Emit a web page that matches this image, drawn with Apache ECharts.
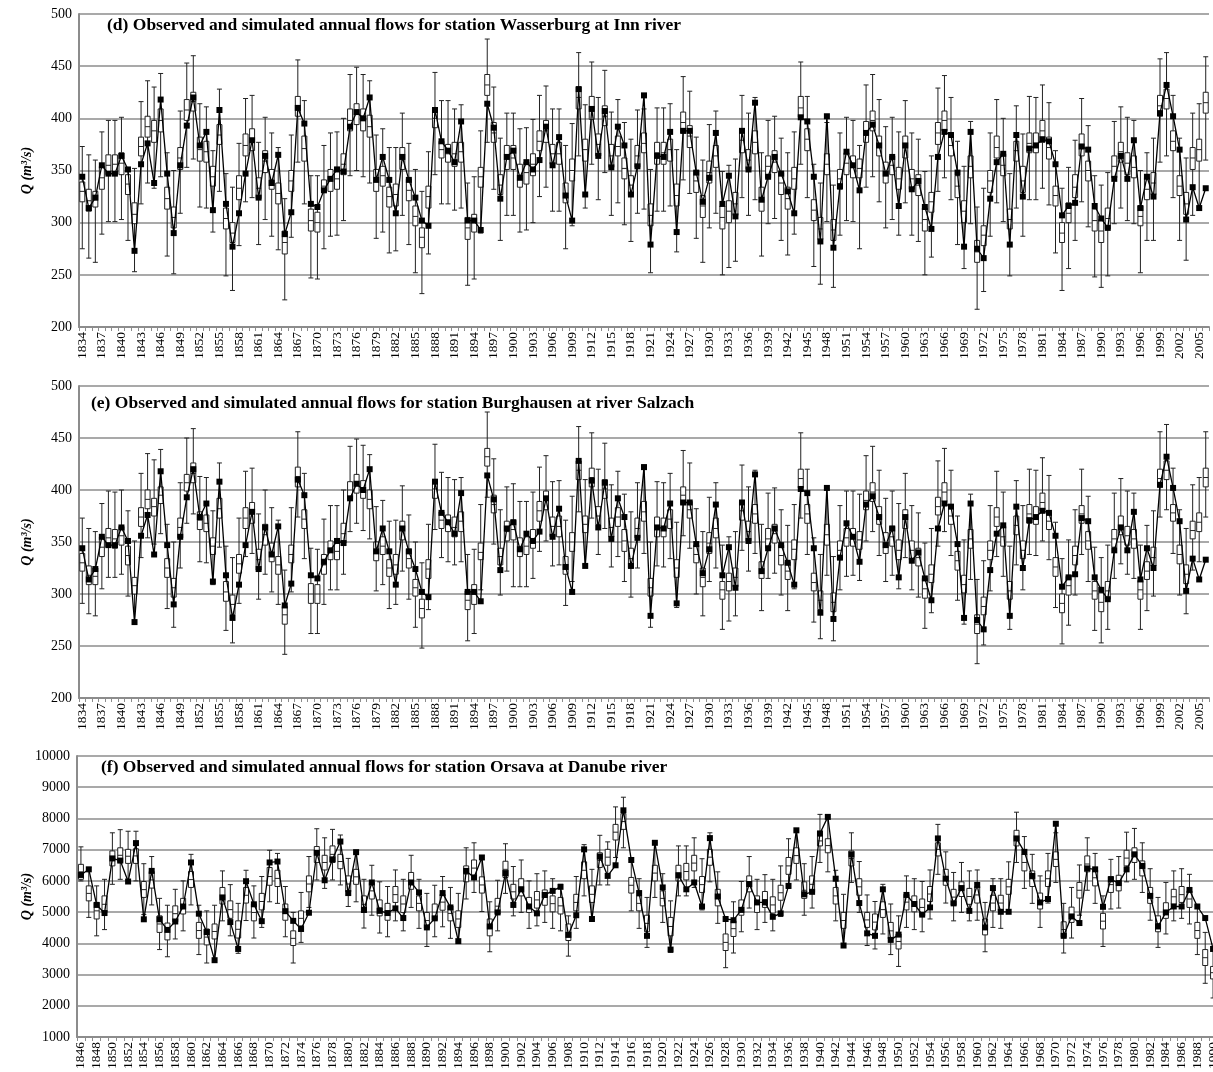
<!DOCTYPE html>
<html><head><meta charset="utf-8">
<script src="https://cdn.jsdelivr.net/npm/echarts@6/dist/echarts.min.js"></script>
<style>html,body{margin:0;padding:0;overflow:hidden;background:#fff}#c{width:1240px;height:1072px}</style>
</head><body><div id="c"></div>
<script>
// ---------- Panel (d) / (e): years 1834-2006 ----------
const yearsDE = [];
for (let y = 1834; y <= 2006; y++) yearsDE.push(String(y));
// Observed annual flows (identical series shown in panels d and e)
const obsDE = [344,314,324,355,347,347,364,351,273,356, 376,338,418,347,290,355,393,420,374,387, 312,408,318,277,309,347,379,324,364,338, 365,289,310,410,395,318,315,331,342,351, 349,392,406,400,
420,341,363,341,309,363,341,324,302,297, 408,378,369,358,397,302,302,293,414,391, 323,363,369,343,358,351,360,392,355,382, 326,302,428,327,409,364,407,353,392,374, 327,354,422,
279,364,363,387,291,388,388,348,320,343, 386,318,345,306,388,351,415,322,344,363, 347,330,309,401,397,344,282,402,276,335, 368,355,331,386,394,374,347,363,316,374, 332,340,
315,294,363,387,384,348,277,387,275,266, 323,358,366,279,384,325,371,374,380,378, 356,307,316,319,373,370,316,304,295,342, 364,342,379,314,344,325,405,432,402,370, 303,334,314,333];
// Simulated (d) Wasserburg: whisker max, Q3, median, Q1, whisker min
const dHi = [373,365,360,387,398,398,401,352,352,416, 436,430,443,367,350,407,453,460,414,411, 369,428,347,334,376,419,422,377,401,386, 372,323,384,456,417,345,345,374,386,387, 400,442,449,442,
436,384,390,372,372,405,376,351,330,368, 444,417,417,409,413,338,344,388,476,430, 381,405,405,390,391,399,422,431,409,409, 374,395,463,413,454,420,446,406,418,396, 380,408,409,
351,410,410,414,370,440,426,382,360,394, 407,349,355,361,422,405,420,367,398,402, 381,367,387,454,421,356,338,396,336,386, 401,398,374,432,442,418,392,401,387,417, 386,380,
349,364,429,441,420,378,354,397,315,333, 386,418,400,347,412,385,421,420,432,415, 369,333,353,379,419,393,345,336,348,397, 411,401,398,350,367,381,457,463,422,381, 362,405,414,459];
const dQ3 = [339,332,330,354,365,365,367,346,319,382, 402,398,409,334,315,372,418,425,382,378, 354,394,314,300,345,385,390,343,369,351, 338,292,350,421,383,313,310,341,351,353, 366,409,414,409,
403,351,354,334,337,372,342,316,295,335, 410,378,375,377,377,305,308,353,442,396, 346,374,374,356,358,366,388,398,375,377, 338,361,430,380,421,385,412,375,383,362, 345,374,386,
318,377,377,380,337,406,393,350,326,359, 374,316,321,329,390,370,388,334,364,369, 348,334,353,421,390,322,305,366,303,351, 367,364,361,397,407,383,358,364,353,383, 351,346,
314,329,396,407,385,345,321,364,283,297, 350,383,366,313,378,354,386,386,398,382, 335,300,319,346,385,359,313,303,314,364, 377,367,364,316,343,348,422,428,388,345, 329,372,380,425];
const dMed = [330,321,322,343,355,356,357,337,308,373, 392,388,398,323,305,362,408,416,370,368, 344,384,304,290,333,374,380,333,359,341, 328,281,340,412,371,302,300,335,340,342, 356,398,404,398,
392,340,345,325,327,362,331,306,286,325, 400,370,366,366,368,295,300,344,432,386, 336,363,362,345,348,356,378,388,366,366, 328,350,420,370,410,375,402,364,373,352, 336,364,376,
307,367,367,370,326,396,383,340,316,348, 364,305,311,318,379,360,377,322,354,358, 338,323,342,410,380,312,294,356,293,342, 357,354,352,387,398,373,348,355,342,372, 342,336,
303,320,386,398,374,335,311,354,272,288, 340,372,355,303,369,340,376,376,388,372, 326,290,309,334,375,350,302,292,304,354, 368,357,353,306,332,338,412,419,378,335, 318,362,370,415];
const dQ1 = [320,311,315,332,346,346,346,327,299,364, 382,377,387,313,295,351,398,407,359,358, 335,375,294,281,322,364,369,323,348,332, 318,270,330,402,359,292,291,330,330,332, 346,388,394,388,
382,330,335,315,316,351,321,297,276,314, 391,362,358,354,358,284,291,334,422,377, 327,351,351,334,337,345,369,377,356,356, 319,340,409,359,399,364,393,353,364,342, 326,353,367,
297,356,356,359,316,386,372,329,305,338, 353,294,300,307,367,351,366,311,343,348, 327,313,332,401,369,302,284,346,283,332, 346,343,343,377,388,364,338,346,332,362, 332,326,
292,310,375,388,364,324,300,343,262,278, 329,362,345,294,359,329,367,367,377,361, 316,281,300,324,364,340,292,281,294,343, 358,346,343,297,322,327,402,409,369,326, 308,351,359,405];
const dLo = [275,266,262,289,301,301,303,283,253,318, 338,333,344,268,251,309,353,361,315,314, 291,330,249,235,278,320,324,279,303,287, 274,226,286,358,318,247,246,275,287,288, 302,345,350,344,
338,285,291,271,273,307,279,252,232,270, 346,318,318,312,314,240,246,290,377,332, 283,307,307,291,293,300,325,334,311,311, 275,297,364,314,356,322,348,307,319,298, 282,309,313,
252,311,311,316,272,341,328,285,262,295, 309,250,257,263,324,307,322,268,299,304, 283,269,289,356,324,258,241,301,238,288, 302,301,275,334,344,320,295,303,288,319, 288,282,
250,267,330,343,322,279,256,299,217,234, 287,319,301,249,314,287,322,322,333,317, 271,235,256,283,320,296,248,238,249,299, 314,302,299,252,283,283,358,364,324,283, 264,307,315,360];
// Simulated (e) Burghausen
const eHi = [373,363,360,387,399,398,400,380,351,416, 435,429,439,367,350,407,450,459,413,412, 380,426,346,335,373,418,421,377,400,383, 371,323,383,456,416,344,343,372,385,385, 400,442,449,443,
434,384,390,370,371,404,376,350,330,367, 444,417,412,410,412,338,343,386,475,430, 381,403,406,389,389,398,422,433,408,409, 371,394,461,410,455,420,445,405,418,396, 379,407,424,
350,408,407,416,369,438,426,382,360,393, 407,347,355,360,424,403,419,367,397,402, 381,366,386,455,420,354,338,401,336,385, 399,399,396,433,442,419,392,399,387,416, 385,378,
349,363,428,440,419,375,352,396,314,332, 385,418,398,346,409,385,420,419,431,414, 369,334,352,381,420,394,345,335,347,397, 411,399,397,347,366,380,456,463,421,381, 363,405,412,456];
const eQ3 = [339,327,325,355,363,362,365,346,316,383, 400,392,403,334,315,373,415,426,379,376, 354,392,312,299,338,383,388,343,367,349, 336,288,347,422,381,310,309,338,351,351, 368,408,415,409,
400,350,355,333,338,370,343,314,295,333, 410,379,376,374,379,303,309,349,440,395, 344,370,371,354,355,362,389,399,374,375, 336,359,428,375,421,384,410,373,383,362, 344,373,389,
315,374,373,381,333,403,389,347,325,359, 373,312,320,325,389,370,386,331,363,367, 347,331,352,420,386,320,303,367,301,351, 363,363,360,399,407,384,359,365,352,381, 351,344,
315,328,393,407,384,341,318,362,280,297, 351,383,365,312,375,351,386,384,397,379, 335,300,317,346,385,360,312,301,312,362, 375,365,362,313,331,345,420,428,386,347, 328,370,378,421];
const eMed = [330,318,317,345,354,353,356,337,308,374, 391,384,395,325,306,364,407,416,371,368, 346,382,302,290,329,373,378,333,357,340, 328,280,338,413,372,300,300,328,342,341, 358,400,406,400,
391,341,346,325,328,361,334,306,286,324, 401,371,368,364,370,294,300,340,432,386, 336,360,362,345,346,353,380,390,365,365, 328,350,419,367,412,375,401,364,374,351, 334,363,379,
306,364,364,372,325,395,381,338,316,349, 363,304,312,316,380,360,377,323,353,358, 337,322,343,411,377,311,294,357,292,342, 354,354,352,390,398,376,349,355,342,372, 342,335,
305,319,384,398,375,332,309,353,271,288, 342,374,355,303,366,342,377,375,388,370, 326,291,308,337,377,351,303,292,303,353, 366,356,353,304,322,335,411,419,378,338, 319,361,369,412];
const eQ1 = [322,309,309,336,345,344,347,328,300,365, 382,375,387,316,297,354,399,407,362,360, 338,373,293,280,320,363,368,323,347,331, 319,271,330,403,363,291,291,319,333,333, 349,391,397,392,
382,332,338,317,319,352,325,298,277,315, 392,363,360,355,360,285,290,333,423,378, 328,351,352,336,338,344,370,381,355,355, 319,341,410,359,403,367,392,355,365,341, 325,354,370,
298,355,355,363,316,386,373,330,307,339, 354,295,303,307,371,351,368,315,344,349, 328,314,333,402,368,303,285,347,283,333, 346,346,343,381,389,367,339,346,333,363, 333,327,
296,311,376,389,367,323,301,344,262,280, 333,365,346,295,357,334,368,367,380,362, 317,282,299,328,368,343,295,283,295,345, 357,347,344,295,314,327,403,410,370,329, 310,353,360,403];
const eLo = [291,281,279,305,316,316,319,298,273,335, 354,348,358,286,268,325,368,377,331,330, 309,345,265,253,291,336,339,295,319,302, 290,242,302,374,334,262,262,290,304,304, 319,360,368,361,
353,303,309,286,290,322,295,268,248,285, 362,335,331,328,331,255,262,304,393,348, 299,322,307,307,307,315,341,351,327,328, 289,312,379,328,373,338,363,326,336,312, 297,325,339,
268,327,326,334,287,356,344,300,279,312, 325,266,274,279,342,322,339,284,315,320, 299,284,305,373,338,273,257,318,255,304, 317,318,313,351,360,337,312,318,305,335, 304,297,
267,282,346,360,337,294,271,314,233,251, 303,336,317,266,328,304,338,337,351,333, 287,252,270,299,338,312,265,253,266,315, 329,319,315,266,284,298,374,381,339,299, 281,323,331,374];

// ---------- Panel (f): years 1846-1990 ----------
const yearsF = [];
for (let y = 1846; y <= 1990; y++) yearsF.push(String(y));
const obsF = [6190,6370,5230,4970,6720,6650,5980,7210,4770,6320, 4770,4430,4700,5180,6590,4950,4360,3460,5470,4680, 3820,5990,5250,4710,6590,6620,5030,4720,4460,4980, 6900,6020,6690,7260,5610,6920,5070,
5950,5040,4970,5120,4810,5950,5630,4510,4800,5610, 5150,4070,6320,6110,6750,4540,4990,6250,5230,5730, 5180,4960,5550,5680,5810,4270,4900,7010,4780,6780, 6160,6500,8260,6670,5610,
4240,7220,5790,3800,6180,5730,5950,5180,7370,5500, 4780,4740,5070,5900,5310,5310,4850,4960,5840,7620, 5570,5650,7520,8050,6070,3930,6850,5290,4320,4240, 5730,4110,4280,5550,5260,4920,
5150,7360,6070,5280,5770,5040,5870,4510,5770,5010, 5010,7360,6930,6160,5310,5420,7830,4240,4860,4650, 6400,6370,5170,6050,5930,6370,6850,6480,5520,4540, 4990,5180,5180,5710,5180,4810,3820];
const fHi = [7090,6430,5840,6050,7540,7640,7590,7590,6550,6780, 5440,5220,5730,6000,6850,5220,5040,5220,6320,5880, 5280,6340,5840,6140,6980,6880,5820,4990,5630,6780, 7670,7380,7650,7470,6720,6900,6050,
6500,5970,5820,6350,6050,6820,6050,5600,5860,6140, 5790,5600,7060,7220,6690,5330,6020,7190,6460,6670, 6000,6230,6320,6070,5890,4880,6140,7160,6370,7460, 7250,8370,8680,6690,6070,
5470,7220,6230,5360,7120,7120,7380,6710,7540,6290, 4780,5330,5980,6780,6050,6200,6050,6480,7350,7600, 6550,6780,8130,8050,6340,5570,7540,6620,5550,5340, 5890,5260,4880,6160,6070,5980,
6350,7810,6930,6270,6590,6320,6350,5310,6070,6070, 6610,8200,7420,6850,6160,6880,7540,5280,5790,6510, 7380,6880,5520,6690,6780,7560,7680,7220,6390,5470, 5950,6320,6390,6210,5220,4350,3820];
const fQ3 = [6530,5840,5310,5520,6960,7060,7010,7030,5980,6300, 4880,4650,5200,5440,6300,4670,4460,4620,5790,5360, 4720,5790,5260,5600,6430,6340,5260,4400,5040,6160, 7100,6820,7120,6850,6160,6370,5520,
5950,5390,5280,5820,5520,6270,5520,4990,5260,5570, 5200,5040,6480,6670,6130,4780,5440,6630,5890,6070, 5470,5660,5710,5520,5470,4620,5570,6610,5840,6900, 7010,7810,8150,6110,5520,
4900,6500,5680,4830,6500,6560,6820,6140,7010,5730, 4300,4720,5390,6160,5520,5660,5490,5860,6750,7060, 5970,6160,7440,7350,5790,4990,6960,6070,4990,4940, 5330,4670,4300,5570,5520,5420,
5820,7220,6370,5730,5970,5760,5820,4780,5540,5540, 6050,7620,6850,6320,5610,6320,6930,4690,5160,5950, 6800,6350,4960,6140,6180,6980,7060,6640,5790,4880, 5300,5730,5820,5680,4670,3800,3260];
const fMed = [6290,5600,5040,5250,6720,6820,6790,6800,5720,6030, 4620,4380,4950,5190,6040,4410,4200,4380,5520,5080, 4450,5540,4990,5340,6140,6080,5000,4160,4800,5900, 6840,6590,6850,6620,5900,6130,5250,
5680,5140,5010,5560,5260,6000,5280,4730,5000,5320, 4960,4780,6220,6410,5870,4510,5190,6370,5650,5800, 5230,5390,5470,5270,5200,4350,5310,6340,5570,6660, 6760,7560,7900,5860,5280,
4640,6250,5440,4540,6250,6300,6570,5880,6760,5470, 4030,4470,5150,5900,5260,5400,5230,5620,6480,6810, 5700,5890,7280,7130,5520,4730,6720,5810,4750,4680, 5080,4400,4060,5320,5270,5150,
5580,7010,6120,5480,5730,5500,5550,4520,5290,5290, 5810,7370,6590,6070,5350,6070,6690,4440,4920,5700, 6540,6100,4710,5880,5930,6730,6820,6400,5530,4630, 5050,5490,5560,5420,4410,3540,3060];
const fQ1 = [6050,5360,4780,4990,6480,6590,6560,6560,5470,5770, 4350,4110,4690,4940,5790,4160,3950,4140,5260,4800, 4170,5290,4720,5070,5860,5820,4740,3930,4560,5650, 6590,6350,6590,6390,5650,5890,4990,
5420,4880,4740,5310,4990,5730,5040,4480,4740,5060, 4720,4510,5970,6160,5610,4240,4940,6110,5420,5520, 4990,5130,5220,5010,4940,4090,5040,6070,5310,6430, 6500,7310,7650,5610,5040,
4370,6000,5200,4240,6000,6030,6320,5630,6500,5200, 3770,4220,4900,5650,4990,5150,4970,5380,6210,6560, 5440,5630,7120,6900,5260,4480,6480,5540,4510,4430, 4830,4140,3820,5070,5010,4880,
5340,6800,5860,5220,5500,5250,5290,4270,5040,5040, 5570,7120,6320,5820,5100,5820,6460,4190,4670,5450, 6290,5840,4460,5630,5680,6480,6590,6160,5280,4370, 4800,5250,5310,5150,4160,3290,2860];
const fLo = [6000,4830,4240,4440,5890,6050,6000,6000,4920,5230, 3800,3570,4140,4400,5230,3640,3370,3460,4720,4240, 3680,4730,4170,4510,5330,5280,4210,3370,4030,5150, 6030,5760,6030,5870,5180,5330,4490,
4900,4330,4210,4720,4400,5150,4480,3900,4210,4530, 4160,4050,5420,5630,5020,3730,4400,5600,4880,4990, 4480,4560,4670,4480,4400,3590,4480,5520,4780,5870, 5870,6750,7060,5040,4480,
3870,5470,4670,3710,5520,5520,5790,5070,5970,4640, 3220,3690,4370,5130,4440,4670,4400,4860,5760,6030, 4900,5130,6590,6290,4720,3930,5950,4990,3930,3820, 4300,3640,3260,4510,4440,4370,
4780,6210,5290,4720,4990,4720,4740,3730,4510,4480, 5010,6590,5760,5280,4510,5290,5950,3690,4170,4900, 5700,5280,3900,5100,5130,5970,6050,5630,4740,3870, 4300,4720,4800,4620,3640,2720,2250];

const titles = [
  '(d) Observed and simulated annual flows for station Wasserburg at Inn river',
  '(e) Observed and simulated annual flows for station Burghausen at river Salzach',
  '(f) Observed and simulated annual flows for station Orsava at Danube river'
];
const yName = 'Q (m³/s)';

function box(lo, q1, md, q3, hi) { return lo.map((v, i) => [v, q1[i], md[i], q3[i], hi[i]]); }

const SERIF = "'Liberation Serif','Times New Roman',serif";
const grids = [
  {left: 79, top: 14, width: 1130, height: 313},
  {left: 79, top: 386, width: 1130, height: 312},
  {left: 77, top: 756, width: 1140, height: 282}
];
function xAx(i, data, every) {
  return {type: 'category', gridIndex: i, data: data, boundaryGap: true,
    axisLine: {lineStyle: {color: '#8c8c8c', width: 2}},
    axisTick: {show: true, interval: 0, length: 4, lineStyle: {color: '#8c8c8c'}},
    axisLabel: {interval: every, rotate: 90, fontFamily: SERIF, fontSize: 13.5, color: '#000', margin: 5},
    splitLine: {show: false}};
}
function yAx(i, min, max, step, gap) {
  return {type: 'value', gridIndex: i, min: min, max: max, interval: step,
    name: yName, nameLocation: 'middle', nameGap: gap, nameRotate: 90, nameMoveOverlap: false,
    nameTextStyle: {fontFamily: SERIF, fontStyle: 'italic', fontWeight: 'bold', fontSize: 14, color: '#000'},
    axisLine: {show: true, lineStyle: {color: '#8c8c8c', width: 2}},
    axisTick: {show: false},
    axisLabel: {fontFamily: SERIF, fontSize: 14, color: '#000', margin: 7, formatter: v => String(v)},
    splitLine: {show: true, lineStyle: {color: '#8c8c8c', width: 1.5}}};
}
function bx(i, data) {
  return {type: 'boxplot', xAxisIndex: i, yAxisIndex: i, data: data, boxWidth: [5, 5],
    itemStyle: {color: '#fff', borderColor: '#222', borderWidth: 1}, silent: true};
}
function ln(i, data, sz) {
  return {type: 'line', xAxisIndex: i, yAxisIndex: i, data: data, symbol: 'rect', symbolSize: sz,
    showAllSymbol: true,
    itemStyle: {color: '#000'}, lineStyle: {color: '#000', width: 1.3}, silent: true};
}
const TS = {fontFamily: SERIF, fontWeight: 'bold', fontSize: 17.5, color: '#000'};
const chart = echarts.init(document.getElementById('c'), null, {renderer: 'canvas'});
chart.setOption({
  animation: false,
  backgroundColor: '#fff',
  title: [
    {text: titles[0], left: 107, top: 16, padding: 0, textStyle: TS},
    {text: titles[1], left: 91, top: 394, padding: 0, textStyle: TS},
    {text: titles[2], left: 101, top: 758, padding: 0, textStyle: TS}
  ],
  grid: grids,
  xAxis: [xAx(0, yearsDE, 2), xAx(1, yearsDE, 2), xAx(2, yearsF, 1)],
  yAxis: [yAx(0, 200, 500, 50, 45), yAx(1, 200, 500, 50, 45), yAx(2, 1000, 10000, 1000, 43)],
  series: [
    bx(0, box(dLo, dQ1, dMed, dQ3, dHi)), ln(0, obsDE, 6),
    bx(1, box(eLo, eQ1, eMed, eQ3, eHi)), ln(1, obsDE, 6),
    bx(2, box(fLo, fQ1, fMed, fQ3, fHi)), ln(2, obsF, 6)
  ]
});
</script></body></html>
